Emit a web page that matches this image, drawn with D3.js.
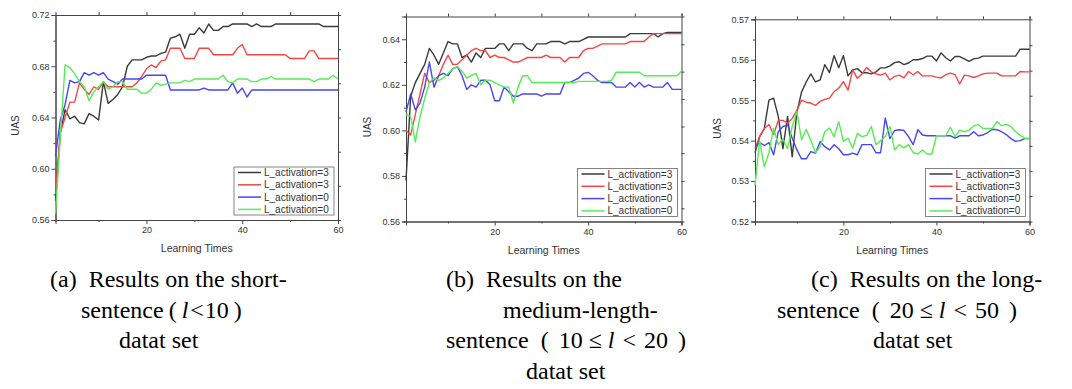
<!DOCTYPE html>
<html>
<head>
<meta charset="utf-8">
<script src="https://cdn.jsdelivr.net/npm/d3@7"></script>
<style>
  body { margin: 0; background: #fff; }
  svg { display: block; }
</style>
</head>
<body>
<svg id="chart" width="1072" height="389"></svg>
<script>
// Learning times run 1..60 (index + 1 of every series)
const seriesNames = ["L_activation=3", "L_activation=3", "L_activation=0", "L_activation=0"];
const seriesColors = ["#3a3a3a", "#f24646", "#4646f2", "#55ec55"];

// (a) short sentences
const aBlack = [0.575,0.628,0.646,0.639,0.641,0.636,0.635,0.643,0.641,0.638,
  0.668,0.651,0.654,0.658,0.664,0.680,0.685,0.685,0.685,0.687,
  0.688,0.688,0.690,0.691,0.702,0.703,0.705,0.694,0.705,0.705,
  0.710,0.706,0.713,0.708,0.708,0.711,0.711,0.713,0.713,0.713,
  0.713,0.711,0.713,0.711,0.711,0.711,0.713,0.713,0.713,0.713,
  0.713,0.713,0.713,0.713,0.713,0.713,0.711,0.711,0.711,0.711];
const aRed = [0.580,0.628,0.640,0.652,0.652,0.667,0.662,0.658,0.664,0.662,
  0.668,0.664,0.664,0.664,0.664,0.664,0.664,0.667,0.672,0.678,
  0.681,0.679,0.684,0.685,0.694,0.694,0.694,0.686,0.686,0.686,
  0.694,0.694,0.694,0.689,0.689,0.689,0.689,0.689,0.694,0.697,
  0.689,0.689,0.689,0.689,0.689,0.689,0.689,0.689,0.689,0.686,
  0.686,0.686,0.686,0.692,0.692,0.686,0.686,0.686,0.686,0.686];
const aBlue = [0.610,0.638,0.650,0.669,0.667,0.668,0.675,0.673,0.675,0.673,
  0.675,0.670,0.668,0.666,0.670,0.670,0.670,0.670,0.670,0.673,
  0.673,0.673,0.673,0.673,0.6615,0.6615,0.6615,0.6615,0.6615,0.6615,
  0.6615,0.663,0.6615,0.6615,0.6615,0.6615,0.6615,0.667,0.659,0.663,
  0.656,0.6615,0.6615,0.6615,0.6615,0.6615,0.6615,0.6615,0.6615,0.6615,
  0.6615,0.6615,0.6615,0.6615,0.6615,0.6615,0.6615,0.6615,0.6615,0.6615];
const aGreen = [0.565,0.625,0.681,0.679,0.674,0.668,0.664,0.653,0.660,0.664,
  0.668,0.662,0.664,0.668,0.668,0.662,0.662,0.662,0.659,0.659,
  0.662,0.667,0.665,0.666,0.667,0.667,0.667,0.669,0.668,0.670,
  0.670,0.670,0.670,0.670,0.670,0.673,0.668,0.667,0.670,0.670,
  0.670,0.668,0.668,0.670,0.670,0.672,0.670,0.670,0.670,0.670,
  0.670,0.670,0.670,0.670,0.668,0.670,0.670,0.670,0.673,0.670];

// (b) medium-length sentences
const bBlack = [0.578,0.615,0.621,0.625,0.629,0.636,0.633,0.629,0.634,0.639,
  0.638,0.638,0.632,0.633,0.630,0.634,0.632,0.636,0.636,0.636,
  0.638,0.638,0.635,0.638,0.638,0.638,0.636,0.635,0.638,0.638,
  0.638,0.639,0.639,0.639,0.638,0.639,0.639,0.639,0.640,0.641,
  0.641,0.641,0.641,0.641,0.641,0.641,0.641,0.641,0.6425,0.6425,
  0.6425,0.6425,0.6425,0.6425,0.641,0.6425,0.643,0.643,0.643,0.643];
const bRed = [0.600,0.598,0.607,0.616,0.625,0.621,0.622,0.624,0.629,0.633,
  0.629,0.629,0.631,0.633,0.635,0.636,0.635,0.635,0.632,0.633,
  0.632,0.632,0.631,0.630,0.630,0.631,0.632,0.632,0.632,0.632,
  0.633,0.632,0.632,0.632,0.630,0.632,0.632,0.632,0.635,0.636,
  0.636,0.637,0.638,0.638,0.638,0.638,0.638,0.638,0.639,0.639,
  0.639,0.639,0.641,0.6425,0.6425,0.6425,0.6425,0.6425,0.6425,0.6425];
const bBlue = [0.608,0.616,0.609,0.612,0.619,0.630,0.619,0.624,0.625,0.624,
  0.627,0.628,0.624,0.618,0.620,0.619,0.622,0.622,0.620,0.613,
  0.613,0.619,0.617,0.615,0.615,0.616,0.616,0.616,0.616,0.615,
  0.616,0.616,0.616,0.616,0.621,0.621,0.622,0.623,0.625,0.6255,
  0.624,0.622,0.621,0.621,0.621,0.619,0.619,0.619,0.621,0.619,
  0.621,0.619,0.620,0.619,0.619,0.619,0.621,0.618,0.618,0.618];
const bGreen = [0.607,0.606,0.595,0.606,0.614,0.621,0.623,0.622,0.623,0.625,
  0.627,0.628,0.626,0.623,0.624,0.625,0.620,0.622,0.622,0.621,
  0.620,0.619,0.619,0.612,0.619,0.624,0.624,0.621,0.621,0.621,
  0.621,0.621,0.621,0.621,0.621,0.621,0.621,0.6215,0.6215,0.6215,
  0.6215,0.6215,0.6215,0.6215,0.622,0.6255,0.6255,0.6255,0.6255,0.6255,
  0.6255,0.624,0.624,0.624,0.624,0.624,0.624,0.624,0.624,0.626];

// (c) long sentences
const cBlack = [0.537,0.541,0.543,0.550,0.5505,0.546,0.538,0.546,0.536,0.547,
  0.552,0.5545,0.5565,0.5545,0.555,0.5588,0.5568,0.561,0.558,0.561,
  0.556,0.5575,0.5578,0.5568,0.5568,0.5565,0.557,0.558,0.558,0.5585,
  0.5593,0.5595,0.5588,0.5592,0.560,0.560,0.5603,0.5609,0.5609,0.5597,
  0.5617,0.5605,0.5597,0.5608,0.5608,0.5602,0.5596,0.5602,0.5604,0.5609,
  0.5609,0.5609,0.5609,0.5609,0.5609,0.5609,0.5609,0.5626,0.5626,0.5626];
const cRed = [0.538,0.541,0.543,0.544,0.5415,0.545,0.545,0.5443,0.5455,0.5475,
  0.550,0.5495,0.5493,0.5487,0.5497,0.5502,0.5505,0.5521,0.553,0.5546,
  0.5525,0.5575,0.5554,0.5565,0.5581,0.557,0.5565,0.5562,0.5567,0.555,
  0.5559,0.5562,0.5555,0.5571,0.5563,0.5571,0.556,0.556,0.556,0.5557,
  0.5555,0.5563,0.5567,0.5563,0.554,0.5562,0.556,0.5556,0.556,0.5565,
  0.5567,0.5567,0.5567,0.556,0.556,0.556,0.556,0.5571,0.557,0.557];
const cBlue = [0.5385,0.5395,0.5388,0.5395,0.5365,0.5422,0.5435,0.5439,0.5406,0.5377,
  0.5355,0.5355,0.5373,0.5369,0.5398,0.5385,0.5377,0.539,0.538,0.5365,
  0.5365,0.5369,0.5365,0.539,0.539,0.539,0.537,0.537,0.5456,0.5405,
  0.5425,0.5427,0.5425,0.541,0.539,0.5427,0.5414,0.5412,0.5412,0.5412,
  0.5412,0.5412,0.5412,0.5406,0.5412,0.5412,0.5412,0.5422,0.5412,0.5414,
  0.542,0.5428,0.5427,0.5422,0.5415,0.5405,0.5398,0.54,0.5405,0.5405];
const cGreen = [0.529,0.540,0.5335,0.537,0.543,0.539,0.5405,0.538,0.5435,0.5472,
  0.5402,0.5428,0.540,0.537,0.5385,0.5422,0.5431,0.541,0.5447,0.5398,
  0.5406,0.5381,0.5418,0.541,0.5413,0.5435,0.539,0.540,0.541,0.5435,
  0.5377,0.539,0.5382,0.539,0.537,0.5367,0.5377,0.5367,0.5367,0.5412,
  0.5412,0.5412,0.5433,0.541,0.5426,0.5422,0.5426,0.5436,0.544,0.543,
  0.543,0.543,0.5447,0.5437,0.544,0.5435,0.5422,0.5413,0.5406,0.5406];

// axis ticks
const xMajor = [20, 40, 60];
const xMinor = [10, 30, 50];
const aYMajor = [0.56, 0.60, 0.64, 0.68, 0.72];
const aYMinor = [0.58, 0.62, 0.66, 0.70];
const aYRight = [0.5867, 0.6133, 0.64, 0.6667, 0.6933];
const bYMajor = [0.56, 0.58, 0.60, 0.62, 0.64];
const bYMinor = [0.57, 0.59, 0.61, 0.63];
const bYRight = [0.5658, 0.5778, 0.59, 0.6017, 0.6138, 0.6258, 0.6378];
const cYMajor = [0.52, 0.53, 0.54, 0.55, 0.56, 0.57];
const cYMinor = [0.525, 0.535, 0.545, 0.555, 0.565];
const cYRight = [0.5263, 0.5325, 0.5387, 0.5449, 0.5511, 0.5573, 0.5636];

// captions: each line is a list of tokens; the token "l" is the italic variable
const captionA = [
  ["(a)\u00a0\u00a0Results on the short-"],
  ["sentence", "(", "l", "<", "10", ")"],
  ["datat set"]
];
const captionB = [
  ["(b)\u00a0\u00a0Results on the"],
  ["medium-length-"],
  ["sentence", "(", "10", "\u2264", "l", "<", "20", ")"],
  ["datat set"]
];
const captionC = [
  ["(c)\u00a0\u00a0Results on the long-"],
  ["sentence", "(", "20", "\u2264", "l", "<", "50", ")"],
  ["datat set"]
];

// gaps (px) placed before each token after the first
const mathGapShort = [5, 5, 2, 1, 5];
const mathGapLong = [12, 10, 6, 6, 8, 8, 10];

const panels = [
  {series: [aBlack, aRed, aBlue, aGreen], domain: [0.56, 0.72], yMajor: aYMajor, yMinor: aYMinor, yRight: aYRight,
   x0: 55.5, x1: 338, y0: 220, y1: 15, ylabX: 16,
   caption: captionA, capX: [50, 81, 119], capGap: [[], mathGapShort, []]},
  {series: [bBlack, bRed, bBlue, bGreen], domain: [0.56, 0.65], yMajor: bYMajor, yMinor: bYMinor, yRight: bYRight,
   x0: 406, x1: 681.5, y0: 221.5, y1: 16.5, ylabX: 368,
   caption: captionB, capX: [446, 503, 446, 526], capGap: [[], [], mathGapLong, []]},
  {series: [cBlack, cRed, cBlue, cGreen], domain: [0.52, 0.57], yMajor: cYMajor, yMinor: cYMinor, yRight: cYRight,
   x0: 755, x1: 1029.5, y0: 221.5, y1: 19.3, ylabX: 718,
   caption: captionC, capX: [811, 777, 873], capGap: [[], mathGapLong, []]}
];

const svg = d3.select('#chart');
const axisColor = "#444";
const sans = "Arial, 'Liberation Sans', sans-serif";
const serif = "'Times New Roman', 'Liberation Serif', serif";

panels.forEach(p => {
    const x = d3.scaleLinear().domain([1, 60]).range([p.x0, p.x1]);
    const y = d3.scaleLinear().domain(p.domain).range([p.y0, p.y1]);
    const g = svg.append('g');

    // axes
    const styleAxis = sel => {
        sel.selectAll('.domain, .tick line').attr('stroke', axisColor).attr('stroke-width', 1);
        sel.selectAll('text').attr('fill', '#333').style('font-family', sans).style('font-size', '9px');
    };
    g.append('g').attr('transform', `translate(${p.x0},0)`)
        .call(d3.axisLeft(y).tickValues(p.yMajor).tickSize(4).tickPadding(2).tickFormat(d3.format('.2f')))
        .call(styleAxis);
    g.append('g').attr('transform', `translate(${p.x0},0)`)
        .call(d3.axisLeft(y).tickValues(p.yMinor).tickSize(2).tickFormat(''))
        .call(styleAxis);
    g.append('g').attr('transform', `translate(${p.x1},0)`)
        .call(d3.axisRight(y).tickValues(p.yRight).tickSize(3).tickFormat(''))
        .call(styleAxis);
    g.append('g').attr('transform', `translate(0,${p.y0})`)
        .call(d3.axisBottom(x).tickValues(xMajor).tickSize(4).tickPadding(3))
        .call(styleAxis);
    g.append('g').attr('transform', `translate(0,${p.y0})`)
        .call(d3.axisBottom(x).tickValues(xMinor).tickSize(2).tickFormat(''))
        .call(styleAxis);
    g.append('g').attr('transform', `translate(0,${p.y1})`)
        .call(d3.axisTop(x).tickValues(xMinor.concat(xMajor)).tickSize(3).tickFormat(''))
        .call(styleAxis);

    // data lines
    const line = d3.line()
        .x((d, i) => x(i + 1))
        .y(d => y(d));
    p.series.forEach((s, k) => {
        g.append('path')
            .datum(s)
            .attr('fill', 'none')
            .attr('stroke', seriesColors[k])
            .attr('stroke-width', 1.4)
            .attr('stroke-linejoin', 'round')
            .attr('d', line);
    });

    // axis titles
    g.append('text')
        .attr('x', (p.x0 + p.x1) / 2)
        .attr('y', p.y0 + 32)
        .attr('text-anchor', 'middle')
        .attr('fill', '#333')
        .style('font-family', sans)
        .style('font-size', '10.5px')
        .text('Learning Times');
    g.append('text')
        .attr('transform', `translate(${p.ylabX + 3},${(p.y0 + p.y1) / 2 + 8}) rotate(-90)`)
        .attr('text-anchor', 'middle')
        .attr('fill', '#333')
        .style('font-family', sans)
        .style('font-size', '10px')
        .text('UAS');

    // legend
    const lw = 100, lh = 48;
    const lg = g.append('g').attr('transform', `translate(${p.x1 - 4 - lw},${p.y0 - 5 - lh})`);
    lg.append('rect').attr('width', lw).attr('height', lh)
        .attr('fill', '#fff').attr('stroke', '#666').attr('stroke-width', 0.8);
    seriesNames.forEach((name, k) => {
        const ly = 5.5 + k * 12.3;
        lg.append('line').attr('x1', 4).attr('x2', 27).attr('y1', ly).attr('y2', ly)
            .attr('stroke', seriesColors[k]).attr('stroke-width', 1.5);
        lg.append('text').attr('x', 30).attr('y', ly + 3.5)
            .attr('fill', '#333')
            .style('font-family', sans).style('font-size', '10px')
            .text(name);
    });

    // caption
    p.caption.forEach((tokens, li) => {
        const t = svg.append('text')
            .attr('x', p.capX[li])
            .attr('y', 287 + li * 30.7)
            .attr('fill', '#000')
            .style('font-family', serif)
            .style('font-size', '24px');
        tokens.forEach((tok, ti) => {
            t.append('tspan')
                .attr('dx', ti === 0 ? 0 : (p.capGap[li][ti - 1] || 0))
                .style('font-style', tok === 'l' ? 'italic' : 'normal')
                .text(tok);
        });
    });
});
</script>
</body>
</html>
